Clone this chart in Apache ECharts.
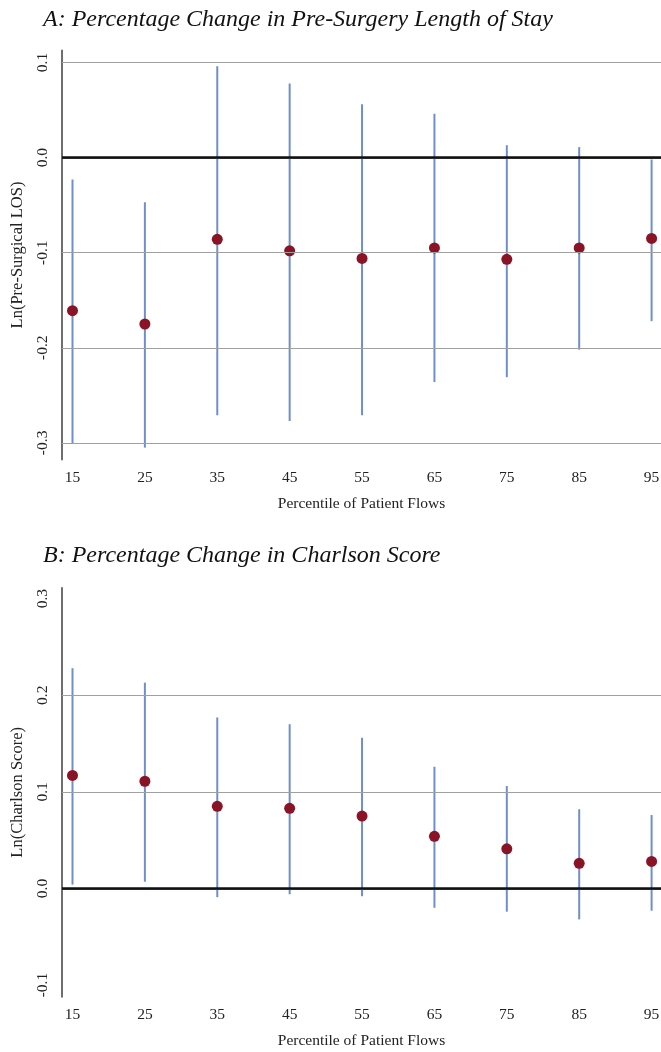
<!DOCTYPE html>
<html>
<head>
<meta charset="utf-8">
<script src="https://cdn.jsdelivr.net/npm/echarts@6/dist/echarts.min.js"></script>
<style>
html,body{margin:0;padding:0;background:#fff;}
#chart{width:661px;height:1052px;}
</style>
</head>
<body>
<div id="chart"></div>
<script>
// ---- data ----
const percentiles = [15, 25, 35, 45, 55, 65, 75, 85, 95];

const losPoint = [-0.161, -0.175, -0.086, -0.098, -0.106, -0.095, -0.107, -0.095, -0.085];
const losLow   = [-0.301, -0.305, -0.271, -0.277, -0.271, -0.236, -0.231, -0.202, -0.172];
const losHigh  = [-0.023, -0.047,  0.096,  0.078,  0.056,  0.046,  0.013,  0.011, -0.002];

const chPoint = [0.117, 0.111, 0.085, 0.083, 0.075, 0.054, 0.041, 0.026, 0.028];
const chLow   = [0.004, 0.007, -0.009, -0.006, -0.008, -0.020, -0.024, -0.032, -0.023];
const chHigh  = [0.228, 0.213, 0.177, 0.170, 0.156, 0.126, 0.106, 0.082, 0.076];

const losTicks = [-0.3, -0.2, -0.1, 0.0, 0.1];
const losGrid  = [0.1, -0.1, -0.2, -0.3];
const chTicks  = [-0.1, 0.0, 0.1, 0.2, 0.3];
const chGrid   = [0.2, 0.1];

const titleA = 'A: Percentage Change in Pre-Surgery Length of Stay';
const titleB = 'B: Percentage Change in Charlson Score';
const yNameA = 'Ln(Pre-Surgical LOS)';
const yNameB = 'Ln(Charlson Score)';
const xName  = 'Percentile of Patient Flows';

// ---- chart ----
const SERIF = '"Liberation Serif","DejaVu Serif",serif';
const chart = echarts.init(document.getElementById('chart'), null, {renderer: 'canvas'});

function xAxis(gi) {
  return {
    type: 'value', gridIndex: gi, min: 13.55, max: 96.3,
    name: xName, nameLocation: 'middle', nameGap: 36,
    nameTextStyle: {fontFamily: SERIF, fontSize: 15.5, color: '#222'},
    axisLine: {show: true, lineStyle: {color: '#6e6e6e', width: 2}},
    axisTick: {show: false},
    splitLine: {show: false},
    axisLabel: {
      customValues: percentiles, fontFamily: SERIF, fontSize: 15.5, color: '#222', margin: 10,
      showMinLabel: true, showMaxLabel: true
    }
  };
}
function yAxis(gi, min, max, ticks, name) {
  return {
    type: 'value', gridIndex: gi, min: min, max: max,
    name: name, nameLocation: 'middle', nameGap: 36,
    nameTextStyle: {fontFamily: SERIF, fontSize: 16.5, color: '#222'},
    axisLine: {show: true, onZero: false, lineStyle: {color: '#6e6e6e', width: 2}},
    axisTick: {show: false},
    splitLine: {show: false},
    axisLabel: {
      customValues: ticks, rotate: 90, margin: 11,
      fontFamily: SERIF, fontSize: 15.5, color: '#222',
      formatter: v => v.toFixed(1)
    }
  };
}
function refLines(grid) {
  const d = grid.map(v => ({yAxis: v, lineStyle: {color: '#a0a0a0', width: 1.2, type: 'solid'}}));
  d.push({yAxis: 0, lineStyle: {color: '#111', width: 2.6, type: 'solid'}});
  return {silent: true, symbol: 'none', label: {show: false}, data: d};
}
function errSeries(ai, low, high) {
  return {
    type: 'custom', xAxisIndex: ai, yAxisIndex: ai,
    data: percentiles.map((p, i) => [p, low[i], high[i]]),
    renderItem: function (params, api) {
      const a = api.coord([api.value(0), api.value(1)]);
      const b = api.coord([api.value(0), api.value(2)]);
      return {type: 'line', shape: {x1: a[0], y1: a[1], x2: b[0], y2: b[1]},
              style: {stroke: '#6f8fc9', lineWidth: 2}};
    },
    z: 3
  };
}
function ptSeries(ai, pts, grid) {
  return {
    type: 'scatter', xAxisIndex: ai, yAxisIndex: ai,
    data: percentiles.map((p, i) => [p, pts[i]]),
    symbolSize: 11, itemStyle: {color: '#8a1426', opacity: 1},
    markLine: refLines(grid), z: 4
  };
}

chart.setOption({
  animation: false,
  backgroundColor: '#fff',
  title: [
    {text: titleA, left: 38, top: 3,
     textStyle: {fontFamily: SERIF, fontStyle: 'italic', fontWeight: 'normal', fontSize: 24, color: '#111'}},
    {text: titleB, left: 38, top: 539,
     textStyle: {fontFamily: SERIF, fontStyle: 'italic', fontWeight: 'normal', fontSize: 24, color: '#111'}}
  ],
  grid: [
    {left: 62, top: 50.5, width: 599, height: 409, containLabel: false, outerBoundsMode: 'none'},
    {left: 62, top: 588, width: 599, height: 408.7, containLabel: false, outerBoundsMode: 'none'}
  ],
  xAxis: [xAxis(0), xAxis(1)],
  yAxis: [
    yAxis(0, -0.3175, 0.1126, losTicks, yNameA),
    yAxis(1, -0.112, 0.311, chTicks, yNameB)
  ],
  series: [
    errSeries(0, losLow, losHigh),
    ptSeries(0, losPoint, losGrid),
    errSeries(1, chLow, chHigh),
    ptSeries(1, chPoint, chGrid)
  ]
});
</script>
</body>
</html>
